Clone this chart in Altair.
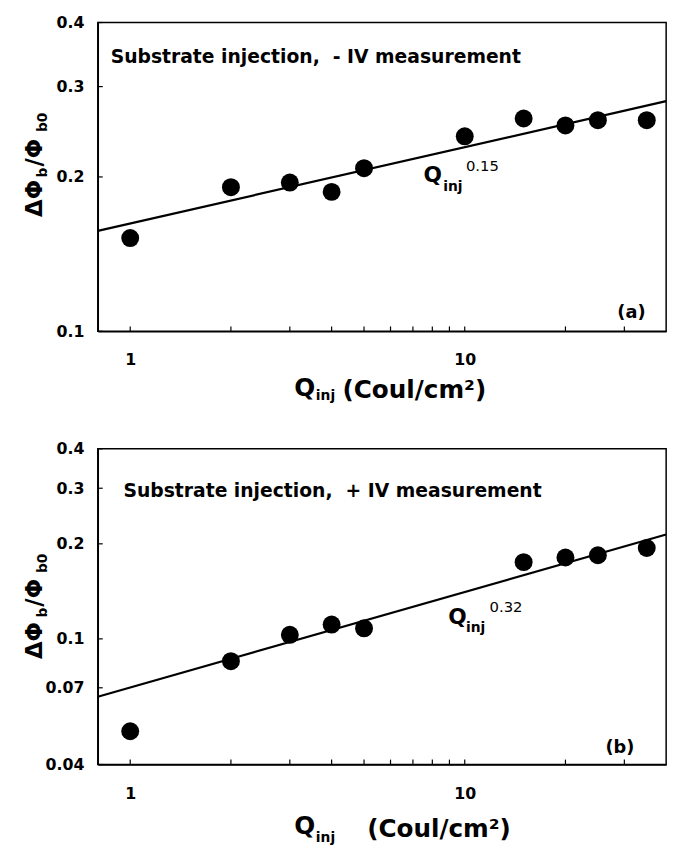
import altair as alt
import pandas as pd

# ---------------- data ----------------
# Panel (a): substrate injection, - IV measurement
q_a = [1, 2, 3, 4, 5, 10, 15, 20, 25, 35]
phi_a = [0.152, 0.191, 0.195, 0.187, 0.208, 0.240, 0.260, 0.252, 0.258, 0.258]
fit_a_q = [0.8, 40]
fit_a_phi = [0.157, 0.281]

# Panel (b): substrate injection, + IV measurement
q_b = [1, 2, 3, 4, 5, 15, 20, 25, 35]
phi_b = [0.051, 0.085, 0.103, 0.111, 0.108, 0.175, 0.181, 0.184, 0.194]
fit_b_q = [0.8, 40]
fit_b_phi = [0.0656, 0.214]

x_ticks = [1, 2, 3, 4, 5, 6, 7, 8, 9, 10, 20, 30]
x_domain = [0.8, 40]
y_ticks_a = [0.1, 0.2, 0.3, 0.4]
y_ticks_b = [0.04, 0.07, 0.1, 0.2, 0.3, 0.4]
y_domain_a = [0.1, 0.4]
y_domain_b = [0.04, 0.4]

label_a = "Substrate injection,\u00a0 - IV measurement"
label_b = "Substrate injection,\u00a0 + IV measurement"
label_a_pos = (0.874, 0.334)
label_b_pos = (0.9545, 0.281)
expo_a = "0.15"
expo_b = "0.32"
q_a_pos = (7.53, 0.1952)
q_b_pos = (8.92, 0.1111)
tag_a = "(a)"
tag_b = "(b)"
tag_a_pos = (31.5, 0.1064)
tag_b_pos = (29.1, 0.0436)

FONT = "DejaVu Sans"
W = 576


def text_layer(df, xenc, yenc, **kw):
    base = dict(font=FONT, fontWeight="bold", color="black", align="left", baseline="alphabetic")
    base.update(kw)
    return alt.Chart(df).mark_text(**base).encode(x=xenc, y=yenc, text="t:N")


def pix_text(s, px, py, **kw):
    base = dict(font=FONT, fontWeight="bold", color="black", align="left", baseline="alphabetic")
    base.update(kw)
    return alt.Chart(pd.DataFrame({"t": [s]})).mark_text(**base).encode(
        x=alt.value(px), y=alt.value(py), text="t:N"
    )


def panel(q, phi, fq, fphi, ydom, yticks, h, label, lpos, expo, qpos, qdx, qdy, edx, edy,
          tag, tagpos, xt, yt):
    xs = alt.Scale(type="log", domain=x_domain, nice=False)
    ys = alt.Scale(type="log", domain=ydom, nice=False)
    xaxis = alt.Axis(
        values=x_ticks, format="~g",
        labelExpr="(datum.value == 1 || datum.value == 10) ? datum.label : ''",
        grid=False, tickSize=0, labelPadding=21, title="",
    )
    yaxis = alt.Axis(values=yticks, format="~g", grid=False, tickSize=0, labelPadding=14, title="")
    xenc = alt.X("x:Q", scale=xs, axis=xaxis)
    yenc = alt.Y("y:Q", scale=ys, axis=yaxis)

    pts = alt.Chart(pd.DataFrame({"x": q, "y": phi})).mark_point(
        filled=True, size=330, color="black", opacity=1, shape="circle"
    ).encode(x=xenc, y=yenc)
    line = alt.Chart(pd.DataFrame({"x": fq, "y": fphi})).mark_line(
        color="black", strokeWidth=2.2
    ).encode(x=xenc, y=yenc)

    # inward ticks
    xt_rule = alt.Chart(pd.DataFrame({"x": x_ticks})).mark_rule(color="black", strokeWidth=1.2).encode(
        x=xenc, y=alt.value(h), y2=alt.value(h - 5)
    )
    yt_rule = alt.Chart(pd.DataFrame({"y": yticks})).mark_rule(color="black", strokeWidth=1.2).encode(
        y=yenc, x=alt.value(0), x2=alt.value(5)
    )

    lab = text_layer(pd.DataFrame({"x": [lpos[0]], "y": [lpos[1]], "t": [label]}), xenc, yenc, fontSize=19)
    qdf = pd.DataFrame({"x": [qpos[0]], "y": [qpos[1]], "t": ["Q"]})
    qt = text_layer(qdf, xenc, yenc, fontSize=22)
    qi = text_layer(qdf.assign(t=["inj"]), xenc, yenc, fontSize=14, dx=qdx, dy=qdy)
    qe = text_layer(qdf.assign(t=[expo]), xenc, yenc, fontSize=15, fontWeight="normal", dx=edx, dy=edy)
    tg = text_layer(pd.DataFrame({"x": [tagpos[0]], "y": [tagpos[1]], "t": [tag]}), xenc, yenc,
                    fontSize=18, align="center")

    # x-axis title: Q_inj (Coul/cm^2)
    xq = pix_text("Q", xt[0], xt[1], fontSize=25)
    xi = pix_text("inj", xt[2], xt[3], fontSize=14)
    xc = pix_text("(Coul/cm\u00b2)", xt[4], xt[5], fontSize=25)

    # y-axis title: delta Phi_b / Phi_b0 (rotated)
    ya = pix_text("\u0394\u03a6", -57, yt[0], fontSize=23, angle=270)
    yb = pix_text("b", -51, yt[1], fontSize=14, angle=270)
    yc = pix_text("/\u03a6", -57, yt[2], fontSize=23, angle=270)
    yd = pix_text("b0", -51, yt[3], fontSize=14, angle=270)

    return alt.layer(xt_rule, yt_rule, line, pts, lab, qt, qi, qe, tg, xq, xi, xc, ya, yb, yc, yd).properties(
        width=W, height=h
    )


top = panel(q_a, phi_a, fit_a_q, fit_a_phi, y_domain_a, y_ticks_a, 313, label_a, label_a_pos,
            expo_a, q_a_pos, 20, 9, 43, -11, tag_a, tag_a_pos,
            (199, 378.5, 221, 383, 248, 380.7), (197, 157, 146, 111))
bot = panel(q_b, phi_b, fit_b_q, fit_b_phi, y_domain_b, y_ticks_b, 320, label_b, label_b_pos,
            expo_b, q_b_pos, 18, 8, 42, -13, tag_b, tag_b_pos,
            (199, 390, 221, 399, 273, 393), (213, 171, 160, 126))

chart = alt.vconcat(top, bot, spacing=36).properties(
    padding={"left": 15, "top": 0, "right": 5, "bottom": 5}
).configure_view(
    stroke="black", strokeWidth=1.5
).configure_axis(
    domainColor="black", domainWidth=1.5, tickColor="black", tickWidth=1.2,
    labelColor="black", labelFont=FONT, labelFontWeight="bold", labelFontSize=16,
)

chart.save("out.html", embed_options={"renderer": "svg", "actions": False})
